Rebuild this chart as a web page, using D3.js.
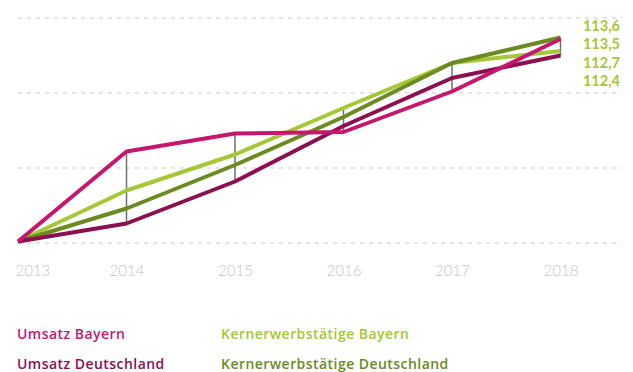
<!DOCTYPE html>
<html>
<head>
<meta charset="utf-8">
<script src="https://cdn.jsdelivr.net/npm/d3@7"></script>
<style>
  html, body { margin: 0; padding: 0; background: #fff; }
  svg { display: block; font-family: Lato, "Open Sans", sans-serif; }
</style>
</head>
<body>
<svg id="chart" width="633" height="372"></svg>
<script>
// Index 2013 = 100
const years = [2013, 2014, 2015, 2016, 2017, 2018];
const umsatzBayern = [100, 106.0, 107.2, 107.3, 110.0, 113.5];
const umsatzDeutschland = [100, 101.2, 104.0, 107.7, 110.9, 112.4];
const kernBayern = [100, 103.4, 105.8, 108.9, 111.9, 112.7];
const kernDeutschland = [100, 102.2, 105.1, 108.3, 111.9, 113.6];
const gridTicks = [100, 105, 110, 115];
const endLabels = ["113,6", "113,5", "112,7", "112,4"];

const series = [
  { name: "Kernerwerbstätige Bayern", values: kernBayern, color: "#a6c736" },
  { name: "Kernerwerbstätige Deutschland", values: kernDeutschland, color: "#6b8b22" },
  { name: "Umsatz Deutschland", values: umsatzDeutschland, color: "#8c0f50" },
  { name: "Umsatz Bayern", values: umsatzBayern, color: "#c5176d" }
];

const svg = d3.select("#chart");

const x = d3.scalePoint().domain(years).range([18, 560.5]);
const y = d3.scaleLinear().domain([100, 115]).range([241.5, 16.5]);

// dashed horizontal grid
svg.append("g")
  .selectAll("line")
  .data(gridTicks)
  .join("line")
  .attr("x1", 18).attr("x2", 622)
  .attr("y1", d => y(d) + 1.5).attr("y2", d => y(d) + 1.5)
  .attr("stroke", "#dcdcdc")
  .attr("stroke-width", 1.5)
  .attr("stroke-dasharray", "4,5");

// year labels
const axis = d3.axisBottom(x).tickSize(0).tickPadding(0);
const gx = svg.append("g").attr("transform", "translate(0,265)").call(axis);
gx.select(".domain").remove();
gx.selectAll("text")
  .attr("fill", "#c4c4c4")
  .attr("font-size", "15px")
  .attr("font-weight", 300)
  .attr("font-family", "Lato, 'Open Sans', sans-serif")
  .attr("text-anchor", (d, i) => i === 0 ? "start" : "middle")
  .attr("dy", "0.71em")
  .attr("dx", (d, i) => i === 0 ? -3 : 0);

// vertical range bars for each year after the base year
const spans = years.slice(1).map((yr, k) => {
  const i = k + 1;
  const vals = series.map(s => s.values[i]);
  return { year: yr, lo: d3.min(vals), hi: d3.max(vals) };
});
svg.append("g")
  .selectAll("line")
  .data(spans)
  .join("line")
  .attr("x1", d => x(d.year)).attr("x2", d => x(d.year))
  .attr("y1", d => y(d.hi)).attr("y2", d => y(d.lo))
  .attr("stroke", "#6e6e6e")
  .attr("stroke-width", 1.5);

// series lines
const line = d3.line()
  .x((d, i) => x(years[i]))
  .y(d => y(d));

svg.append("g")
  .selectAll("path")
  .data(series)
  .join("path")
  .attr("d", d => line(d.values))
  .attr("fill", "none")
  .attr("stroke", d => d.color)
  .attr("stroke-width", 4)
  .attr("stroke-linejoin", "round");

// end values
svg.append("g")
  .selectAll("text")
  .data(endLabels)
  .join("text")
  .attr("x", 620)
  .attr("y", (d, i) => 31 + i * 18.3)
  .attr("text-anchor", "end")
  .attr("fill", "#a6c736")
  .attr("font-size", "14.5px")
  .attr("font-weight", 700)
  .text(d => d);

// legend
const legend = [
  { name: "Umsatz Bayern", color: "#c5176d", col: 0, row: 0 },
  { name: "Umsatz Deutschland", color: "#8c0f50", col: 0, row: 1 },
  { name: "Kernerwerbstätige Bayern", color: "#a6c736", col: 1, row: 0 },
  { name: "Kernerwerbstätige Deutschland", color: "#6b8b22", col: 1, row: 1 }
];
svg.append("g")
  .selectAll("text")
  .data(legend)
  .join("text")
  .attr("x", d => d.col === 0 ? 17 : 221)
  .attr("y", d => 339 + d.row * 29.5)
  .attr("fill", d => d.color)
  .attr("font-family", "'Open Sans', sans-serif")
  .attr("font-size", "14px")
  .attr("font-weight", 600)
  .attr("letter-spacing", "0.45px")
  .text(d => d.name);
</script>
</body>
</html>
